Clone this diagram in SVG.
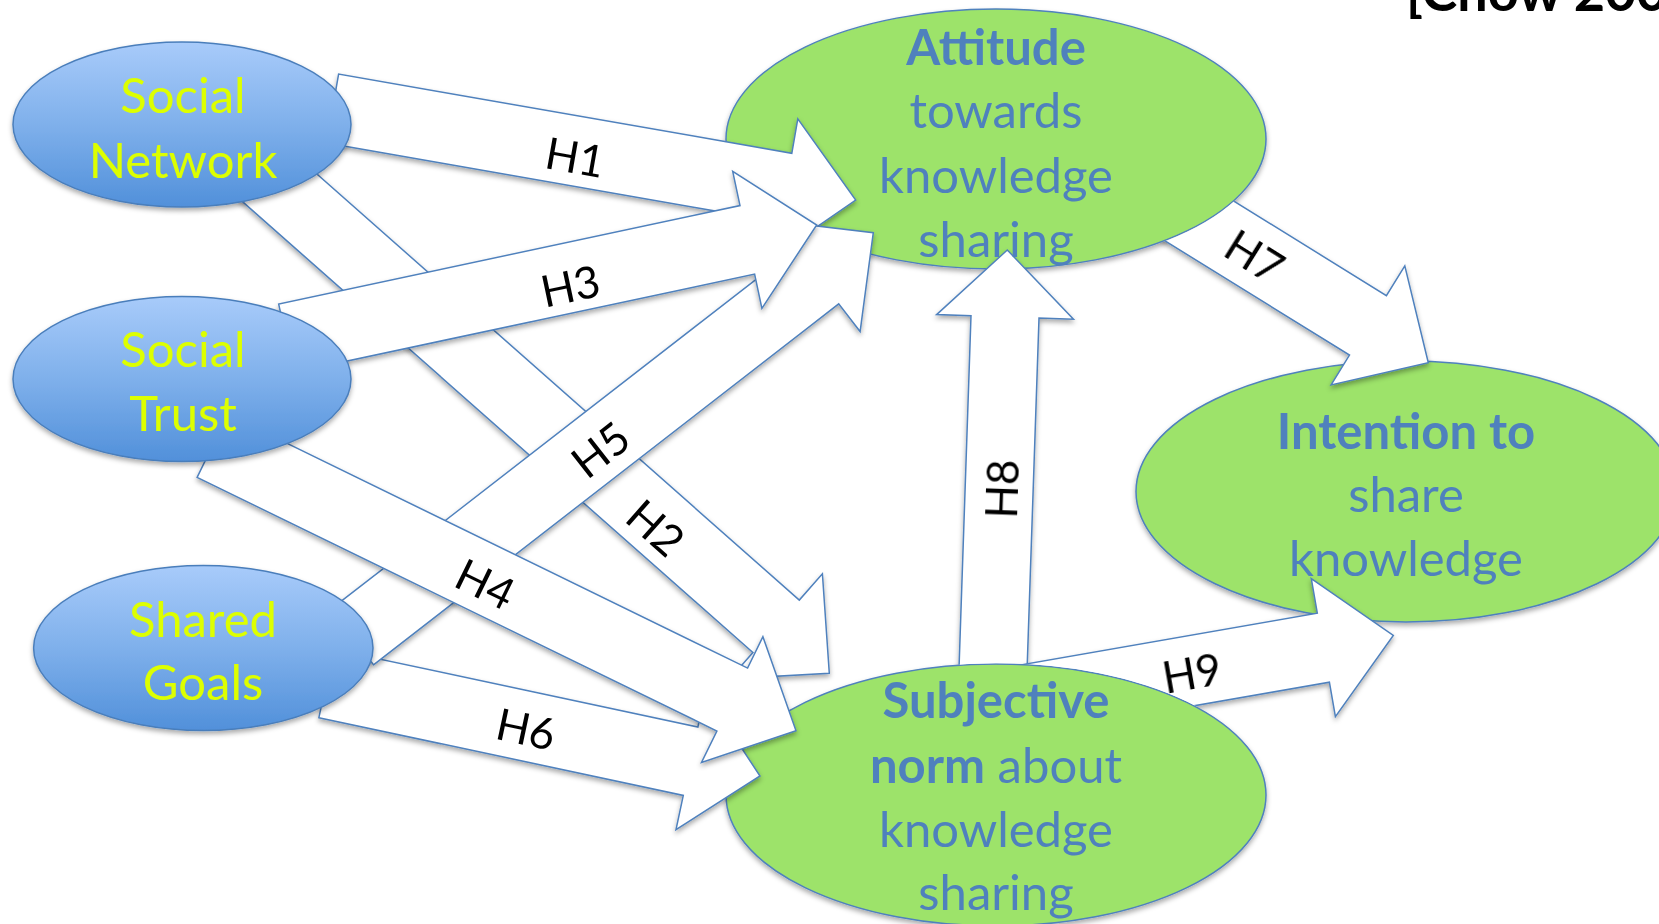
<svg xmlns="http://www.w3.org/2000/svg" width="1659" height="924" viewBox="0 0 1659 924">
  <style>
    .green { fill: #9de36b; stroke: #4f81bd; stroke-width: 1.5; filter: url(#shadow); }
    .blue { fill: url(#blueFill); stroke: #4a7ebb; stroke-width: 1.5; filter: url(#shadow); }
    .arrow { fill: #ffffff; stroke: #4f81bd; stroke-width: 1.5; stroke-linejoin: miter; filter: url(#shadow); }
    .lbl { font-family: Lato, "Open Sans", sans-serif; font-size: 49px; text-anchor: middle; }
    .blueText { fill: #ddff00; }
    .greenText { fill: #4f81bd; }
    .b { font-weight: 700; }
    .h { font-family: Lato, "Open Sans", sans-serif; font-size: 44px; fill: #000000; text-anchor: middle; }
    .title { font-family: Lato, "Liberation Sans", sans-serif; font-size: 54px; font-weight: 700; fill: #000000; }
  </style>
  <defs>
    <linearGradient id="blueFill" x1="0" y1="0" x2="0" y2="1">
      <stop offset="0" stop-color="#a8cbfa"/>
      <stop offset="0.5" stop-color="#7fb0eb"/>
      <stop offset="1" stop-color="#5190da"/>
    </linearGradient>
    <filter id="shadow" x="-10%" y="-10%" width="125%" height="130%">
      <feDropShadow dx="0" dy="3" stdDeviation="2.5" flood-color="#000000" flood-opacity="0.33"/>
    </filter>
    <!-- tails of arrows that start inside a green node are hidden behind it -->
    <mask id="hideAttitude" maskUnits="userSpaceOnUse" x="0" y="0" width="1659" height="924">
      <rect width="1659" height="924" fill="#ffffff"/>
      <ellipse cx="996" cy="139" rx="270.8" ry="130.8" fill="#000000"/>
    </mask>
    <mask id="hideSubjective" maskUnits="userSpaceOnUse" x="0" y="0" width="1659" height="924">
      <rect width="1659" height="924" fill="#ffffff"/>
      <ellipse cx="996" cy="795" rx="270.8" ry="131.8" fill="#000000"/>
    </mask>
  </defs>

  <rect width="1659" height="924" fill="#ffffff"/>

  <!-- green outcome nodes (shapes) -->
  <g id="node-intention">
    <ellipse class="green" cx="1406" cy="491.5" rx="270" ry="130.5"/>
  </g>
  <g id="node-attitude">
    <ellipse class="green" cx="996" cy="139" rx="270" ry="130"/>
  </g>
  <g id="node-subjective">
    <ellipse class="green" cx="996" cy="795" rx="270" ry="131"/>
  </g>

  <!-- hypothesis arrows H1..H9 -->
  <g id="connectors">
    <g mask="url(#hideAttitude)">
      <polygon id="arrow-h7" class="arrow" points="1131.6,220.2 1349.5,355.1 1331.1,384.9 1428.3,362.7 1404.8,265.8 1386.4,295.6 1168.4,160.6"/>
    </g>
    <g mask="url(#hideSubjective)">
      <polygon id="arrow-h8" class="arrow" points="1025.3,721.2 1039.0,318.1 1073.5,319.3 1007.3,250.0 936.6,314.6 971.0,315.8 957.3,718.8"/>
      <polygon id="arrow-h9" class="arrow" points="991.9,741.0 1329.4,682.2 1335.4,716.7 1393.3,635.5 1311.3,578.7 1317.3,613.2 979.9,672.0"/>
    </g>
    <polygon id="arrow-h6" class="arrow" points="318.9,717.7 683.3,795.4 676.0,829.7 760.0,776.0 705.2,692.7 697.9,727.0 333.5,649.3"/>
    <polygon id="arrow-h2" class="arrow" points="236.8,196.6 752.9,652.5 729.8,678.8 829.3,673.3 822.4,573.8 799.3,600.1 283.2,144.2"/>
    <polygon id="arrow-h1" class="arrow" points="326.6,143.0 779.7,222.2 773.7,256.7 855.7,200.0 797.8,118.8 791.8,153.3 338.6,74.0"/>
    <polygon id="arrow-h5" class="arrow" points="373.5,664.8 838.7,303.9 860.1,331.5 873.3,232.7 774.3,220.9 795.8,248.6 330.6,609.5"/>
    <polygon id="arrow-h4" class="arrow" points="197.1,477.3 716.9,731.0 701.5,762.5 796.0,730.7 762.9,636.7 747.6,668.1 227.8,414.4"/>
    <polygon id="arrow-h3" class="arrow" points="293.3,372.5 754.6,274.1 761.9,308.3 816.7,225.0 732.7,171.4 740.0,205.6 278.7,304.1"/>

    <text class="h" transform="translate(575,158) rotate(10)" y="15">H1</text>
    <text class="h" transform="translate(655,528.5) rotate(41.5)" y="15">H2</text>
    <text class="h" transform="translate(570.5,287) rotate(-12)" y="15">H3</text>
    <text class="h" transform="translate(485,585) rotate(26)" y="15">H4</text>
    <text class="h" transform="translate(601,450.5) rotate(-38)" y="15">H5</text>
    <text class="h" transform="translate(525.7,730) rotate(12)" y="15">H6</text>
    <text class="h" transform="translate(1254,257.5) rotate(32)" y="15">H7</text>
    <text class="h" transform="translate(1003,489) rotate(-88)" y="15">H8</text>
    <text class="h" transform="translate(1192,674) rotate(-10)" y="15">H9</text>
  </g>

  <!-- antecedent nodes -->
  <g id="node-social-network">
    <ellipse class="blue" cx="182" cy="124.5" rx="169" ry="82.5"/>
    <text class="lbl blueText" x="183" y="113">Social</text>
    <text class="lbl blueText" x="183" y="178">Network</text>
  </g>
  <g id="node-social-trust">
    <ellipse class="blue" cx="182" cy="379" rx="169" ry="82.5"/>
    <text class="lbl blueText" x="183" y="367">Social</text>
    <text class="lbl blueText" x="183" y="431">Trust</text>
  </g>
  <g id="node-shared-goals">
    <ellipse class="blue" cx="203.3" cy="648" rx="169.7" ry="82.5"/>
    <text class="lbl blueText" x="203" y="637">Shared</text>
    <text class="lbl blueText" x="203" y="700">Goals</text>
  </g>

  <!-- captions of the green nodes, kept above the arrow heads -->
  <g id="label-attitude" class="lbl greenText">
    <text x="996" y="65" class="b">Attitude</text>
    <text x="996" y="128">towards</text>
    <text x="996" y="193">knowledge</text>
    <text x="996" y="257">sharing</text>
  </g>
  <g id="label-subjective" class="lbl greenText">
    <text x="996" y="718" class="b">Subjective</text>
    <text x="996" y="783"><tspan class="b">norm</tspan> about</text>
    <text x="996" y="847">knowledge</text>
    <text x="996" y="910">sharing</text>
  </g>
  <g id="label-intention" class="lbl greenText">
    <text x="1406" y="449" class="b">Intention to</text>
    <text x="1406" y="512">share</text>
    <text x="1406" y="576">knowledge</text>
  </g>

  <text class="title" x="1406" y="11">[Chow 200</text>
</svg>
